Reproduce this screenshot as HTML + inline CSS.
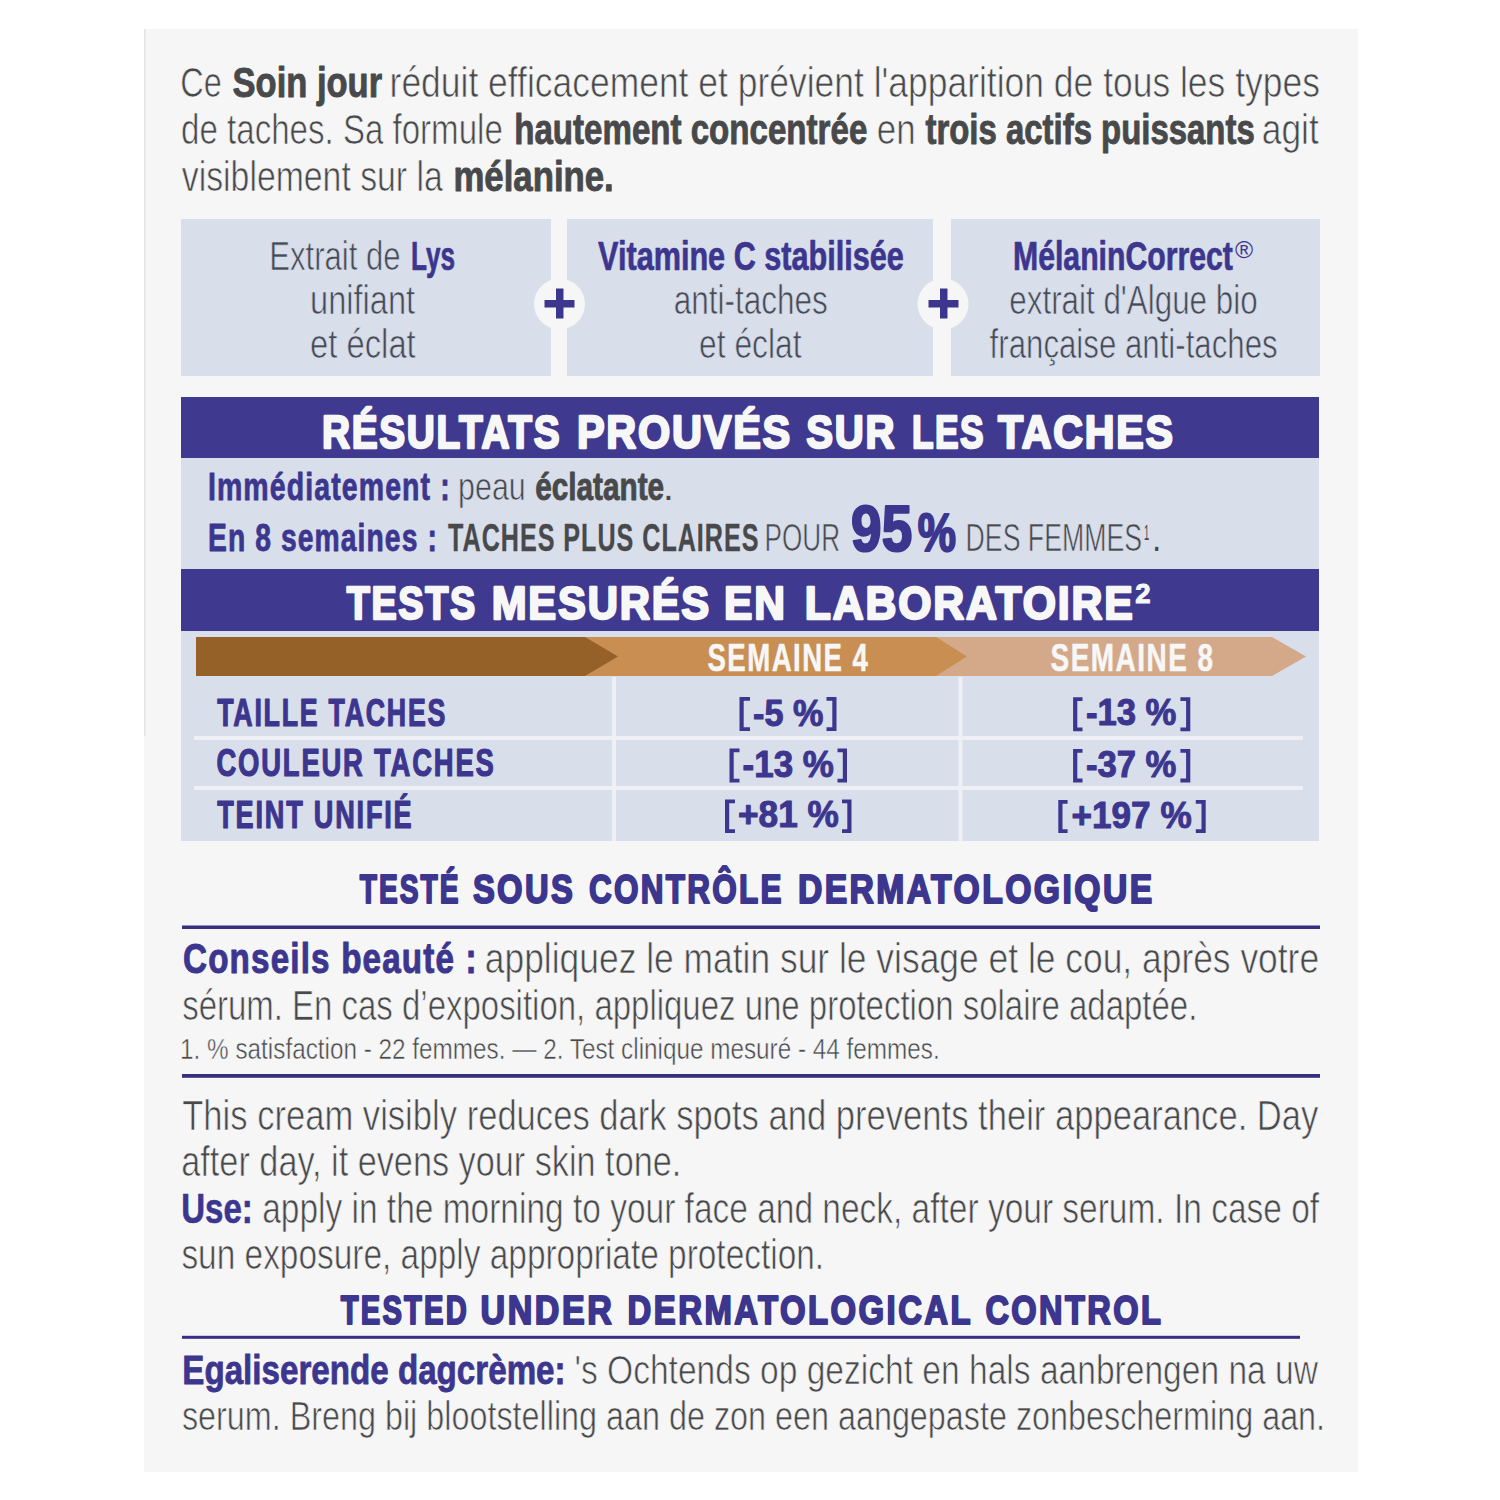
<!DOCTYPE html>
<html><head><meta charset="utf-8"><style>
html,body{margin:0;padding:0;background:#fff;width:1500px;height:1500px;overflow:hidden}
svg{display:block}
text{font-family:"Liberation Sans",sans-serif;white-space:pre}
</style></head><body>
<svg width="1500" height="1500" viewBox="0 0 1500 1500">
<rect x="144" y="29" width="1214" height="1443" fill="#f6f6f6"/>
<rect x="144" y="29" width="1.5" height="707" fill="#e4e3e8"/>
<rect x="181" y="219" width="370" height="157" fill="#d8deea"/>
<rect x="567" y="219" width="366" height="157" fill="#d8deea"/>
<rect x="951" y="219" width="369" height="157" fill="#d8deea"/>
<circle cx="559.5" cy="304" r="25.5" fill="#f6f6f7"/>
<circle cx="943" cy="304" r="25.5" fill="#f6f6f7"/>
<rect x="544.5" y="300" width="30" height="7.5" fill="#3c368f"/>
<rect x="556" y="288.5" width="7.5" height="30" fill="#3c368f"/>
<rect x="928.5" y="300" width="30" height="7.5" fill="#3c368f"/>
<rect x="940" y="288.5" width="7.5" height="30" fill="#3c368f"/>
<rect x="181" y="397" width="1138" height="444" fill="#d8deea"/>
<rect x="181" y="397" width="1138" height="61" fill="#3f3a8f"/>
<rect x="181" y="569" width="1138" height="62" fill="#3f3a8f"/>
<polygon points="936,637 1272,637 1306,656.5 1272,676 936,676" fill="#d3a98a"/>
<polygon points="585,637 936,637 967,656.5 936,676 585,676" fill="#c98e51"/>
<polygon points="196,637 585,637 618,656.5 585,676 196,676" fill="#966029"/>
<rect x="612" y="677" width="4" height="164" fill="#eef0f5"/>
<rect x="958.5" y="677" width="4" height="164" fill="#eef0f5"/>
<rect x="194" y="736" width="1109" height="4" fill="#eef0f5"/>
<rect x="194" y="786" width="1109" height="4" fill="#eef0f5"/>
<rect x="182" y="925.5" width="1138" height="3.5" fill="#372f80"/>
<rect x="182" y="1074" width="1138" height="3.8" fill="#372f80"/>
<rect x="182" y="1335.8" width="1118" height="3" fill="#372f80"/>
<path id="br" d="M739.5 697H750V700.8H743.7V727.2H750V731H739.5ZM836.5 697H826.5V700.8H832.3V727.2H826.5V731H836.5ZM729.5 748.5H739.5V752.3H733.7V778.7H739.5V782.5H729.5ZM847 748.5H837.5V752.3H842.8V778.7H837.5V782.5H847ZM725 799.5H735V803.3H729.2V829.2H735V833H725ZM851.5 799.5H842V803.3H847.3V829.2H842V833H851.5ZM1073.1 697.2H1082.5V701.0H1077.3V727.5H1082.5V731.3H1073.1ZM1190.3 697.2H1180.4V701.0H1186.1V727.5H1180.4V731.3H1190.3ZM1073.1 748.9H1082.5V752.7H1077.3V778.6H1082.5V782.4H1073.1ZM1190.3 748.9H1180.4V752.7H1186.1V778.6H1180.4V782.4H1190.3ZM1058.3 800H1067.6V803.8H1062.5V829.2H1067.6V833H1058.3ZM1205.7 800H1195.8V803.8H1201.5V829.2H1195.8V833H1205.7Z" fill="#3c368f"/>

<text x="180.3" y="96.7" font-size="42" stroke="#f6f6f6" stroke-width="0.7" fill="#48494b" textLength="41.5" lengthAdjust="spacingAndGlyphs">Ce</text>
<text x="232.6" y="96.7" font-size="42" font-weight="700" stroke="#48494b" stroke-width="0.9" stroke-linejoin="round" fill="#48494b" textLength="149.5" lengthAdjust="spacingAndGlyphs">Soin jour</text>
<text x="389.6" y="96.7" font-size="42" stroke="#f6f6f6" stroke-width="0.7" fill="#48494b" textLength="930.3" lengthAdjust="spacingAndGlyphs">réduit efficacement et prévient l'apparition de tous les types</text>
<text x="181.1" y="144.0" font-size="42" stroke="#f6f6f6" stroke-width="0.7" fill="#48494b" textLength="321.7" lengthAdjust="spacingAndGlyphs">de taches. Sa formule</text>
<text x="514.2" y="144.0" font-size="42" font-weight="700" stroke="#48494b" stroke-width="0.9" stroke-linejoin="round" fill="#48494b" textLength="353.1" lengthAdjust="spacingAndGlyphs">hautement concentrée</text>
<text x="876.8" y="144.0" font-size="42" stroke="#f6f6f6" stroke-width="0.7" fill="#48494b" textLength="38.8" lengthAdjust="spacingAndGlyphs">en</text>
<text x="925.5" y="144.0" font-size="42" font-weight="700" stroke="#48494b" stroke-width="0.9" stroke-linejoin="round" fill="#48494b" textLength="329.2" lengthAdjust="spacingAndGlyphs">trois actifs puissants</text>
<text x="1261.8" y="144.0" font-size="42" stroke="#f6f6f6" stroke-width="0.7" fill="#48494b" textLength="57.0" lengthAdjust="spacingAndGlyphs">agit</text>
<text x="181.8" y="191.3" font-size="42" stroke="#f6f6f6" stroke-width="0.7" fill="#48494b" textLength="261.0" lengthAdjust="spacingAndGlyphs">visiblement sur la</text>
<text x="453.4" y="191.3" font-size="42" font-weight="700" stroke="#48494b" stroke-width="0.9" stroke-linejoin="round" fill="#48494b" textLength="160.4" lengthAdjust="spacingAndGlyphs">mélanine.</text>
<text x="269.3" y="270.4" font-size="40" stroke="#d8deea" stroke-width="0.7" fill="#464b54" textLength="131.3" lengthAdjust="spacingAndGlyphs">Extrait de</text>
<text x="411.0" y="270.4" font-size="40" font-weight="700" stroke="#3c368f" stroke-width="0.7" stroke-linejoin="round" fill="#3c368f" textLength="44.1" lengthAdjust="spacingAndGlyphs">Lys</text>
<text x="310.0" y="314.0" font-size="40" stroke="#d8deea" stroke-width="0.7" fill="#464b54" textLength="105.1" lengthAdjust="spacingAndGlyphs">unifiant</text>
<text x="310.1" y="358.0" font-size="40" stroke="#d8deea" stroke-width="0.7" fill="#464b54" textLength="105.6" lengthAdjust="spacingAndGlyphs">et éclat</text>
<text x="598.1" y="270.4" font-size="40" font-weight="700" stroke="#3c368f" stroke-width="0.7" stroke-linejoin="round" fill="#3c368f" textLength="305.7" lengthAdjust="spacingAndGlyphs">Vitamine C stabilisée</text>
<text x="673.7" y="313.7" font-size="40" stroke="#d8deea" stroke-width="0.7" fill="#464b54" textLength="154.2" lengthAdjust="spacingAndGlyphs">anti-taches</text>
<text x="699.1" y="357.7" font-size="40" stroke="#d8deea" stroke-width="0.7" fill="#464b54" textLength="102.4" lengthAdjust="spacingAndGlyphs">et éclat</text>
<text x="1013.0" y="270.4" font-size="40" font-weight="700" stroke="#3c368f" stroke-width="0.7" stroke-linejoin="round" fill="#3c368f" textLength="219.9" lengthAdjust="spacingAndGlyphs">MélaninCorrect</text>
<text x="1235.0" y="258.0" font-size="24" fill="#3c368f" textLength="18.1" lengthAdjust="spacingAndGlyphs">®</text>
<text x="1009.3" y="313.7" font-size="40" stroke="#d8deea" stroke-width="0.7" fill="#464b54" textLength="248.3" lengthAdjust="spacingAndGlyphs">extrait d'Algue bio</text>
<text x="989.6" y="357.7" font-size="40" stroke="#d8deea" stroke-width="0.7" fill="#464b54" textLength="288.1" lengthAdjust="spacingAndGlyphs">française anti-taches</text>
<text x="322.1" y="448.0" font-size="46" font-weight="700" letter-spacing="2" stroke="#f7f7f7" stroke-width="2.4" stroke-linejoin="round" fill="#f7f7f7" textLength="239.1" lengthAdjust="spacingAndGlyphs">RÉSULTATS</text>
<text x="576.9" y="448.0" font-size="46" font-weight="700" letter-spacing="2" stroke="#f7f7f7" stroke-width="2.4" stroke-linejoin="round" fill="#f7f7f7" textLength="215.1" lengthAdjust="spacingAndGlyphs">PROUVÉS</text>
<text x="806.3" y="448.0" font-size="46" font-weight="700" letter-spacing="2" stroke="#f7f7f7" stroke-width="2.4" stroke-linejoin="round" fill="#f7f7f7" textLength="89.9" lengthAdjust="spacingAndGlyphs">SUR</text>
<text x="911.9" y="448.0" font-size="46" font-weight="700" letter-spacing="2" stroke="#f7f7f7" stroke-width="2.4" stroke-linejoin="round" fill="#f7f7f7" textLength="73.2" lengthAdjust="spacingAndGlyphs">LES</text>
<text x="997.9" y="448.0" font-size="46" font-weight="700" letter-spacing="2" stroke="#f7f7f7" stroke-width="2.4" stroke-linejoin="round" fill="#f7f7f7" textLength="176.9" lengthAdjust="spacingAndGlyphs">TACHES</text>
<text x="207.9" y="500.0" font-size="39" font-weight="700" letter-spacing="1.5" stroke="#3c368f" stroke-width="0.8" stroke-linejoin="round" fill="#3c368f" textLength="242.9" lengthAdjust="spacingAndGlyphs">Immédiatement :</text>
<text x="458.1" y="500.0" font-size="39" stroke="#d8deea" stroke-width="0.7" fill="#48494b" textLength="67.6" lengthAdjust="spacingAndGlyphs">peau</text>
<text x="535.3" y="500.0" font-size="39" font-weight="700" stroke="#48494b" stroke-width="0.9" stroke-linejoin="round" fill="#48494b" textLength="128.8" lengthAdjust="spacingAndGlyphs">éclatante</text>
<text x="663.0" y="500.0" font-size="39" fill="#48494b" textLength="10.8" lengthAdjust="spacingAndGlyphs">.</text>
<text x="208.0" y="551.0" font-size="39" font-weight="700" letter-spacing="1.5" stroke="#3c368f" stroke-width="0.8" stroke-linejoin="round" fill="#3c368f" textLength="229.9" lengthAdjust="spacingAndGlyphs">En 8 semaines :</text>
<text x="448.1" y="551.0" font-size="39" font-weight="700" letter-spacing="1.5" stroke="#48494b" stroke-width="0.3" stroke-linejoin="round" fill="#48494b" textLength="311.3" lengthAdjust="spacingAndGlyphs">TACHES PLUS CLAIRES</text>
<text x="764.6" y="551.0" font-size="39" stroke="#d8deea" stroke-width="0.7" fill="#48494b" textLength="75.5" lengthAdjust="spacingAndGlyphs">POUR</text>
<text x="851.1" y="550.8" font-size="64" font-weight="700" stroke="#3c368f" stroke-width="2.2" stroke-linejoin="round" fill="#3c368f" textLength="61.1" lengthAdjust="spacingAndGlyphs">95</text>
<text x="917.8" y="550.8" font-size="53" font-weight="700" stroke="#3c368f" stroke-width="2" stroke-linejoin="round" fill="#3c368f" textLength="38.2" lengthAdjust="spacingAndGlyphs">%</text>
<text x="965.6" y="551.0" font-size="39" stroke="#d8deea" stroke-width="0.7" fill="#48494b" textLength="176.4" lengthAdjust="spacingAndGlyphs">DES FEMMES</text>
<text x="1143.9" y="540.0" font-size="22" fill="#48494b" textLength="5.2" lengthAdjust="spacingAndGlyphs">1</text>
<text x="1152.1" y="550.7" font-size="39" fill="#48494b" textLength="9.3" lengthAdjust="spacingAndGlyphs">.</text>
<text x="346.8" y="619.0" font-size="46" font-weight="700" letter-spacing="2" stroke="#f7f7f7" stroke-width="2.4" stroke-linejoin="round" fill="#f7f7f7" textLength="130.0" lengthAdjust="spacingAndGlyphs">TESTS</text>
<text x="491.7" y="619.0" font-size="46" font-weight="700" letter-spacing="2" stroke="#f7f7f7" stroke-width="2.4" stroke-linejoin="round" fill="#f7f7f7" textLength="219.3" lengthAdjust="spacingAndGlyphs">MESURÉS</text>
<text x="724.0" y="619.0" font-size="46" font-weight="700" letter-spacing="2" stroke="#f7f7f7" stroke-width="2.4" stroke-linejoin="round" fill="#f7f7f7" textLength="62.7" lengthAdjust="spacingAndGlyphs">EN</text>
<text x="804.8" y="619.0" font-size="46" font-weight="700" letter-spacing="2" stroke="#f7f7f7" stroke-width="2.4" stroke-linejoin="round" fill="#f7f7f7" textLength="329.8" lengthAdjust="spacingAndGlyphs">LABORATOIRE</text>
<text x="1135.2" y="603.0" font-size="27" font-weight="700" stroke="#f7f7f7" stroke-width="1" stroke-linejoin="round" fill="#f7f7f7" textLength="15.3" lengthAdjust="spacingAndGlyphs">2</text>
<text x="707.5" y="670.7" font-size="38" font-weight="700" letter-spacing="2" stroke="#f7f7f7" stroke-width="0.5" stroke-linejoin="round" fill="#f7f7f7" textLength="161.8" lengthAdjust="spacingAndGlyphs">SEMAINE 4</text>
<text x="1050.5" y="670.7" font-size="38" font-weight="700" letter-spacing="2" stroke="#f7f7f7" stroke-width="0.5" stroke-linejoin="round" fill="#f7f7f7" textLength="164.1" lengthAdjust="spacingAndGlyphs">SEMAINE 8</text>
<text x="217.2" y="725.6" font-size="38" font-weight="700" letter-spacing="2.5" stroke="#3c368f" stroke-width="1.2" stroke-linejoin="round" fill="#3c368f" textLength="229.9" lengthAdjust="spacingAndGlyphs">TAILLE TACHES</text>
<text x="216.5" y="776.4" font-size="38" font-weight="700" letter-spacing="2.5" stroke="#3c368f" stroke-width="1.2" stroke-linejoin="round" fill="#3c368f" textLength="279.1" lengthAdjust="spacingAndGlyphs">COULEUR TACHES</text>
<text x="217.2" y="828.0" font-size="38" font-weight="700" letter-spacing="2.5" stroke="#3c368f" stroke-width="1.2" stroke-linejoin="round" fill="#3c368f" textLength="196.3" lengthAdjust="spacingAndGlyphs">TEINT UNIFIÉ</text>
<text x="753.1" y="725.5" font-size="37" font-weight="700" stroke="#3c368f" stroke-width="1" stroke-linejoin="round" fill="#3c368f" textLength="70.3" lengthAdjust="spacingAndGlyphs">-5 %</text>
<text x="742.6" y="776.5" font-size="37" font-weight="700" stroke="#3c368f" stroke-width="1" stroke-linejoin="round" fill="#3c368f" textLength="91.3" lengthAdjust="spacingAndGlyphs">-13 %</text>
<text x="738.0" y="827.0" font-size="37" font-weight="700" stroke="#3c368f" stroke-width="1" stroke-linejoin="round" fill="#3c368f" textLength="100.8" lengthAdjust="spacingAndGlyphs">+81 %</text>
<text x="1085.9" y="725.2" font-size="37" font-weight="700" stroke="#3c368f" stroke-width="1" stroke-linejoin="round" fill="#3c368f" textLength="90.5" lengthAdjust="spacingAndGlyphs">-13 %</text>
<text x="1085.9" y="776.9" font-size="37" font-weight="700" stroke="#3c368f" stroke-width="1" stroke-linejoin="round" fill="#3c368f" textLength="90.5" lengthAdjust="spacingAndGlyphs">-37 %</text>
<text x="1071.5" y="827.5" font-size="37" font-weight="700" stroke="#3c368f" stroke-width="1" stroke-linejoin="round" fill="#3c368f" textLength="120.2" lengthAdjust="spacingAndGlyphs">+197 %</text>
<text x="359.7" y="903.3" font-size="41" font-weight="700" letter-spacing="3" stroke="#3c368f" stroke-width="2" stroke-linejoin="round" fill="#3c368f" textLength="101.0" lengthAdjust="spacingAndGlyphs">TESTÉ</text>
<text x="472.9" y="903.3" font-size="41" font-weight="700" letter-spacing="3" stroke="#3c368f" stroke-width="2" stroke-linejoin="round" fill="#3c368f" textLength="102.3" lengthAdjust="spacingAndGlyphs">SOUS</text>
<text x="588.9" y="903.3" font-size="41" font-weight="700" letter-spacing="3" stroke="#3c368f" stroke-width="2" stroke-linejoin="round" fill="#3c368f" textLength="194.9" lengthAdjust="spacingAndGlyphs">CONTRÔLE</text>
<text x="797.9" y="903.3" font-size="41" font-weight="700" letter-spacing="3" stroke="#3c368f" stroke-width="2" stroke-linejoin="round" fill="#3c368f" textLength="356.7" lengthAdjust="spacingAndGlyphs">DERMATOLOGIQUE</text>
<text x="183.0" y="972.6" font-size="42" font-weight="700" letter-spacing="1.5" stroke="#3c368f" stroke-width="1" stroke-linejoin="round" fill="#3c368f" textLength="294.8" lengthAdjust="spacingAndGlyphs">Conseils beauté :</text>
<text x="484.8" y="972.6" font-size="42" stroke="#f6f6f6" stroke-width="0.7" fill="#48494b" textLength="834.3" lengthAdjust="spacingAndGlyphs">appliquez le matin sur le visage et le cou, après votre</text>
<text x="182.2" y="1019.5" font-size="42" stroke="#f6f6f6" stroke-width="0.7" fill="#48494b" textLength="1015.1" lengthAdjust="spacingAndGlyphs">sérum. En cas d’exposition, appliquez une protection solaire adaptée.</text>
<text x="180.1" y="1059.3" font-size="30" stroke="#f6f6f6" stroke-width="0.5" fill="#48494b" textLength="759.6" lengthAdjust="spacingAndGlyphs">1. % satisfaction - 22 femmes. — 2. Test clinique mesuré - 44 femmes.</text>
<text x="182.2" y="1129.7" font-size="42" stroke="#f6f6f6" stroke-width="0.7" fill="#48494b" textLength="1136.2" lengthAdjust="spacingAndGlyphs">This cream visibly reduces dark spots and prevents their appearance. Day</text>
<text x="181.3" y="1176.3" font-size="42" stroke="#f6f6f6" stroke-width="0.7" fill="#48494b" textLength="500.0" lengthAdjust="spacingAndGlyphs">after day, it evens your skin tone.</text>
<text x="181.2" y="1222.5" font-size="42" font-weight="700" stroke="#3c368f" stroke-width="0.6" stroke-linejoin="round" fill="#3c368f" textLength="71.6" lengthAdjust="spacingAndGlyphs">Use:</text>
<text x="262.2" y="1222.5" font-size="42" stroke="#f6f6f6" stroke-width="0.7" fill="#48494b" textLength="1056.9" lengthAdjust="spacingAndGlyphs">apply in the morning to your face and neck, after your serum. In case of</text>
<text x="181.4" y="1269.2" font-size="42" stroke="#f6f6f6" stroke-width="0.7" fill="#48494b" textLength="642.7" lengthAdjust="spacingAndGlyphs">sun exposure, apply appropriate protection.</text>
<text x="340.8" y="1324.0" font-size="40" font-weight="700" letter-spacing="3" stroke="#3c368f" stroke-width="2" stroke-linejoin="round" fill="#3c368f" textLength="128.2" lengthAdjust="spacingAndGlyphs">TESTED</text>
<text x="480.5" y="1324.0" font-size="40" font-weight="700" letter-spacing="3" stroke="#3c368f" stroke-width="2" stroke-linejoin="round" fill="#3c368f" textLength="133.8" lengthAdjust="spacingAndGlyphs">UNDER</text>
<text x="627.6" y="1324.0" font-size="40" font-weight="700" letter-spacing="3" stroke="#3c368f" stroke-width="2" stroke-linejoin="round" fill="#3c368f" textLength="345.5" lengthAdjust="spacingAndGlyphs">DERMATOLOGICAL</text>
<text x="985.4" y="1324.0" font-size="40" font-weight="700" letter-spacing="3" stroke="#3c368f" stroke-width="2" stroke-linejoin="round" fill="#3c368f" textLength="178.0" lengthAdjust="spacingAndGlyphs">CONTROL</text>
<text x="182.3" y="1383.5" font-size="41" font-weight="700" stroke="#3c368f" stroke-width="0.8" stroke-linejoin="round" fill="#3c368f" textLength="383.3" lengthAdjust="spacingAndGlyphs">Egaliserende dagcrème:</text>
<text x="574.5" y="1383.5" font-size="41" stroke="#f6f6f6" stroke-width="0.7" fill="#48494b" textLength="743.5" lengthAdjust="spacingAndGlyphs">'s Ochtends op gezicht en hals aanbrengen na uw</text>
<text x="181.9" y="1430.0" font-size="41" stroke="#f6f6f6" stroke-width="0.7" fill="#48494b" textLength="1143.2" lengthAdjust="spacingAndGlyphs">serum. Breng bij blootstelling aan de zon een aangepaste zonbescherming aan.</text>
</svg>
</body></html>
